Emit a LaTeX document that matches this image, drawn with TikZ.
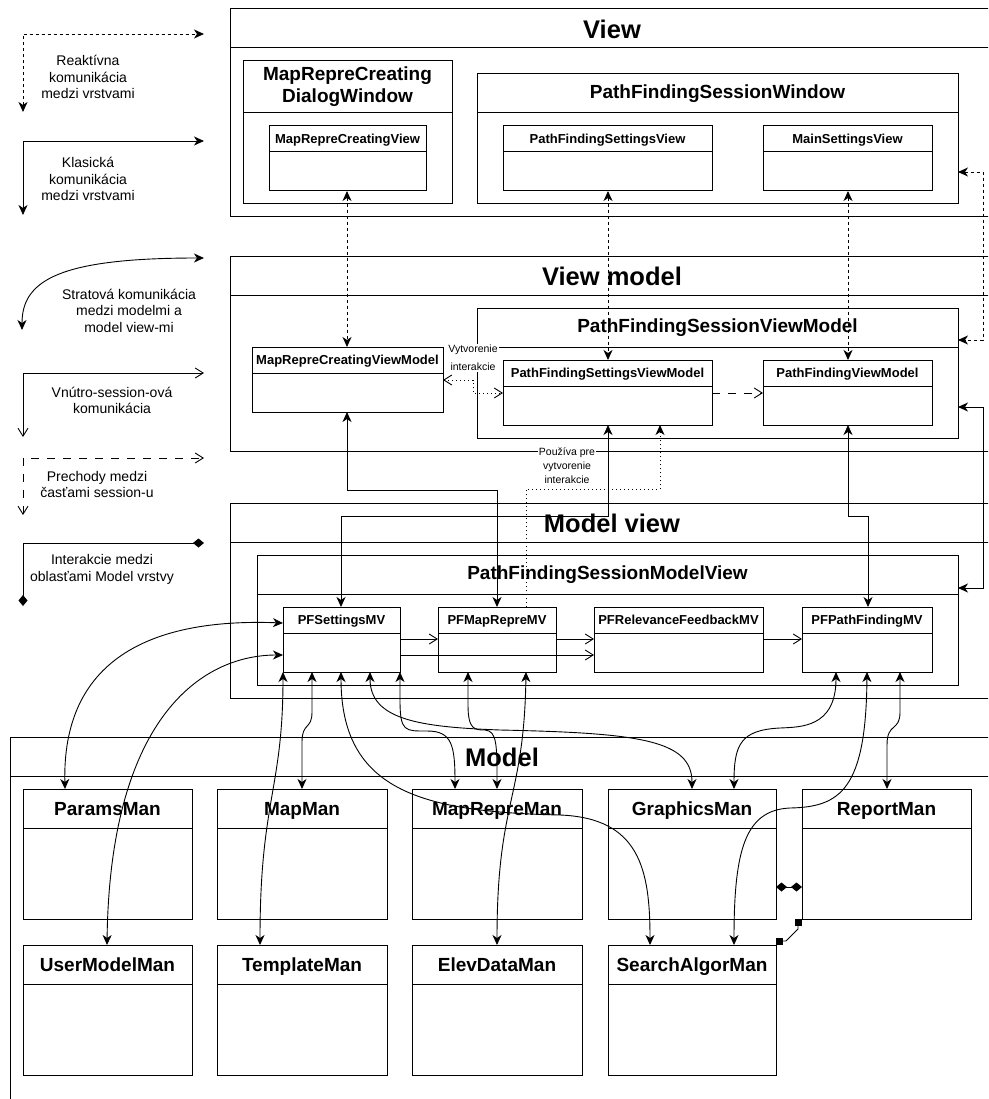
\documentclass[tikz,border=0pt]{standalone}
\usepackage{fontspec}
\setmainfont{Liberation Sans}
\usetikzlibrary{arrows.meta,calc}
\tikzset{
  myfa/.tip={Stealth[length=10pt,width=9pt,inset=3pt]},
  myoa/.tip={Straight Barb[length=8pt,width=10pt,line width=0.9pt]},
  mydia/.tip={Diamond[length=11pt,width=9pt]},
  mysq/.tip={Square[length=7pt,width=7pt]},
}
\newcommand{\ubox}[8]{%
  \node[ubody, minimum width={(#4)-(#2)}, minimum height={(#5)-(#3)}] (#1) at ({((#2)+(#4))/2},{((#3)+(#5))/2}) {};
  \draw[hline] (#2,#6) -- (#4,#6);
  \node[#8] (#1-title) at ({((#2)+(#4))/2},{((#3)+(#6))/2}) {#7};
}
\begin{document}
\begin{tikzpicture}[x=1pt,y=-1pt,
  ubody/.style={draw, line width=1pt, fill=white, inner sep=0pt, outer sep=0pt, rectangle},
  hline/.style={line width=1pt},
  ttl/.style={font=\bfseries\fontsize{25.5}{28}\selectfont, inner sep=0pt, text height=18.4pt, text depth=0pt, yshift=-1pt},
  wtl/.style={font=\bfseries\fontsize{19}{22}\selectfont, align=center, inner sep=0pt},
  stl/.style={font=\bfseries\fontsize{13}{15}\selectfont, inner sep=0pt, text height=9.4pt, text depth=0pt},
  mtl/.style={font=\bfseries\fontsize{19}{22}\selectfont, inner sep=0pt, text height=13.7pt, text depth=0pt},
  leg/.style={font=\fontsize{14}{16.5}\selectfont, align=center, inner sep=0pt},
  lbl/.style={font=\fontsize{10.5}{14}\selectfont, align=center, fill=white, inner sep=1pt},
  conn/.style={line width=0.9pt},
  reactive/.style={dash pattern=on 3pt off 3pt},
  trans/.style={dash pattern=on 8pt off 8pt},
  dotd/.style={dash pattern=on 1pt off 3pt},
]
\useasboundingbox (0,0) rectangle (988,1099);
\clip (0,0) rectangle (988,1099);
\fill[white] (0,0) rectangle (988,1099);

% ---------- legend ----------
\coordinate (r0) at (23,34); \coordinate (r1) at (204,34); \coordinate (r2) at (23,112);
\draw[conn, reactive, {myfa}-{myfa}] (r2) -- (r0) -- (r1);
\node[leg] (legR) at (88,77) {Reaktívna\\komunikácia\\medzi vrstvami};

\coordinate (k0) at (23,141); \coordinate (k1) at (204,141); \coordinate (k2) at (23,215);
\draw[conn, {myfa}-{myfa}] (k2) -- (k0) -- (k1);
\node[leg] (legK) at (88,179) {Klasická\\komunikácia\\medzi vrstvami};

\coordinate (s1) at (204,258); \coordinate (s2) at (22,330);
\draw[conn, {myfa}-{myfa}] (s1) .. controls (60,258) and (22,280) .. (s2);
\node[leg] (legS) at (129,310.5) {Stratová komunikácia\\medzi modelmi a\\model view-mi};

\coordinate (v0) at (23,373); \coordinate (v1) at (204,373); \coordinate (v2) at (23,437);
\draw[conn, {myoa}-{myoa}] (v2) -- (v0) -- (v1);
\node[leg] (legV) at (112,400.5) {Vnútro-session-ová\\komunikácia};

\coordinate (p0) at (23,458); \coordinate (p1) at (204,458); \coordinate (p2) at (23,515);
\draw[conn, trans, {myoa}-{myoa}] (p2) -- (p0) -- (p1);
\node[leg] (legP) at (97,484.5) {Prechody medzi\\časťami session-u};

\coordinate (i0) at (23,543); \coordinate (i1) at (204,543); \coordinate (i2) at (23,606);
\draw[conn, {mydia}-{mydia}] (i2) -- (i0) -- (i1);
\node[leg] (legI) at (102,569.5) {Interakcie medzi\\oblasťami Model vrstvy};

% ---------- View ----------
\ubox{View}{230}{9}{994}{217}{48}{View}{ttl}
\ubox{MRCDW}{243}{61}{452}{204}{113}{MapRepreCreating\\DialogWindow}{wtl}
\ubox{MRCV}{269}{126}{426}{191}{152}{MapRepreCreatingView}{stl}
\ubox{PFSW}{477}{74}{958}{204}{113}{PathFindingSessionWindow}{wtl}
\ubox{PFSV}{503}{126}{712}{191}{152}{PathFindingSettingsView}{stl}
\ubox{MSV}{763}{126}{932}{191}{152}{MainSettingsView}{stl}

% ---------- View model ----------
\ubox{VM}{230}{256}{994}{451}{295}{View model}{ttl}
\ubox{PFSVM}{477}{308}{958}{438}{347}{PathFindingSessionViewModel}{wtl}
\ubox{MRCVM}{252}{347}{443}{412}{373}{MapRepreCreatingViewModel}{stl}
\ubox{PFSetVM}{503}{360}{712}{425}{386}{PathFindingSettingsViewModel}{stl}
\ubox{PFVM}{763}{360}{932}{425}{386}{PathFindingViewModel}{stl}

% ---------- Model view ----------
\ubox{MV}{230}{503}{994}{698}{542}{Model view}{ttl}
\ubox{PFSMV}{257}{555}{958}{685}{594}{PathFindingSessionModelView}{wtl}
\ubox{PFSetMV}{283}{607}{400}{672}{633}{PFSettingsMV}{stl}
\ubox{PFMRMV}{438}{607}{556}{672}{633}{PFMapRepreMV}{stl}
\ubox{PFRFMV}{594}{607}{763}{672}{633}{PFRelevanceFeedbackMV}{stl}
\ubox{PFPFMV}{802}{607}{932}{672}{633}{PFPathFindingMV}{stl}

% ---------- Model ----------
\ubox{Model}{10}{737}{994}{1120}{776}{Model}{ttl}
\ubox{ParamsMan}{23}{789}{192}{919}{828}{ParamsMan}{mtl}
\ubox{MapMan}{217}{789}{387}{919}{828}{MapMan}{mtl}
\ubox{MapRepreMan}{412}{789}{582}{919}{828}{MapRepreMan}{mtl}
\ubox{GraphicsMan}{608}{789}{776}{919}{828}{GraphicsMan}{mtl}
\ubox{ReportMan}{802}{789}{971}{919}{828}{ReportMan}{mtl}
\ubox{UserModelMan}{23}{945}{192}{1075}{984}{UserModelMan}{mtl}
\ubox{TemplateMan}{217}{945}{387}{1075}{984}{TemplateMan}{mtl}
\ubox{ElevDataMan}{412}{945}{582}{1075}{984}{ElevDataMan}{mtl}
\ubox{SearchAlgorMan}{608}{945}{776}{1075}{984}{SearchAlgorMan}{mtl}

% ---------- connectors View <-> View model ----------
\draw[conn, reactive, {myfa}-{myfa}] (MRCV.south -| 347,0) -- (MRCVM.north -| 347,0);
\draw[conn, reactive, {myfa}-{myfa}] (PFSV.south -| 608,0) -- (PFSetVM.north -| 608,0);
\draw[conn, reactive, {myfa}-{myfa}] (MSV.south -| 848,0) -- (PFVM.north -| 848,0);
\draw[conn, reactive, {myfa}-{myfa}] (PFSW.east |- 0,172) -- (983,172) -- (983,340) -- (PFSVM.east |- 0,340);
\draw[conn, {myfa}-{myfa}] (PFSVM.east |- 0,407) -- (983,407) -- (983,588) -- (PFSMV.east |- 0,588);

% inside view model
\draw[conn, dotd, {myoa}-{myoa}] (MRCVM.east |- 0,380) -- (473,380) -- (473,393) -- (PFSetVM.west |- 0,393);
\draw[conn, trans, -{myoa}] (PFSetVM.east |- 0,393) -- (PFVM.west |- 0,393);

% view model <-> model view
\draw[conn, {myfa}-{myfa}] (MRCVM.south -| 347,0) -- (347,490) -- (497,490) -- (PFMRMV.north -| 497,0);
\draw[conn, {myfa}-{myfa}] (PFSetVM.south -| 608,0) -- (608,516) -- (341,516) -- (PFSetMV.north -| 341,0);
\draw[conn, {myfa}-{myfa}] (PFVM.south -| 848,0) -- (848,516) -- (868,516) -- (PFPFMV.north -| 868,0);
\draw[conn, dotd, -{myfa}] (PFMRMV.north -| 526,0) -- (526,489) -- (660,489) -- (PFSetVM.south -| 660,0);

% inside model view
\draw[conn, -{myoa}] (PFSetMV.east |- 0,639) -- (PFMRMV.west |- 0,639);
\draw[conn, -{myoa}] (PFSetMV.east |- 0,655) -- (PFRFMV.west |- 0,655);
\draw[conn, -{myoa}] (PFMRMV.east |- 0,639) -- (PFRFMV.west |- 0,639);
\draw[conn, -{myoa}] (PFRFMV.east |- 0,639) -- (PFPFMV.west |- 0,639);

% model view <-> model
\draw[conn, {myfa}-{myfa}] (PFSetMV.west |- 0,623) .. controls (150,618) and (62,660) .. (ParamsMan.north -| 65,0);
\draw[conn, {myfa}-{myfa}] (PFSetMV.west |- 0,655) .. controls (200,655) and (110,720) .. (UserModelMan.north -| 107,0);
\draw[conn, {myfa}-{myfa}] (PFSetMV.south -| 283,0) .. controls (283,790) and (260,800) .. (TemplateMan.north -| 260,0);
\draw[conn, {myfa}-{myfa}] (PFSetMV.south -| 312,0) -- (312,712) .. controls (312,730) and (302,722) .. (302,742) -- (MapMan.north -| 302,0);
\draw[conn, {myfa}-{myfa}] (PFSetMV.south -| 341,0) .. controls (341,790) and (420,812) .. (560,815) .. controls (640,818) and (650,870) .. (SearchAlgorMan.north -| 650,0);
\draw[conn, {myfa}-{myfa}] (PFSetMV.south -| 370,0) .. controls (370,720) and (420,727) .. (500,730) .. controls (640,733) and (692,740) .. (GraphicsMan.north -| 692,0);
\draw[conn, {myfa}-{myfa}] (PFSetMV.south -| 400,0) -- (400,700) .. controls (400,732) and (405,731) .. (427,731) .. controls (452,731) and (455,745) .. (MapRepreMan.north -| 455,0);
\draw[conn, {myfa}-{myfa}] (PFMRMV.south -| 468,0) -- (468,705) .. controls (468,730) and (475,730) .. (485,730) .. controls (497,731) and (497,745) .. (MapRepreMan.north -| 497,0);
\draw[conn, {myfa}-{myfa}] (PFMRMV.south -| 526,0) .. controls (524,800) and (497,800) .. (ElevDataMan.north -| 497,0);
\draw[conn, {myfa}-{myfa}] (PFPFMV.south -| 836,0) .. controls (836,728) and (800,727) .. (780,728) .. controls (740,730) and (734,745) .. (GraphicsMan.north -| 734,0);
\draw[conn, {myfa}-{myfa}] (PFPFMV.south -| 867,0) .. controls (866,790) and (840,807) .. (790,808) .. controls (745,810) and (734,850) .. (SearchAlgorMan.north -| 734,0);
\draw[conn, {myfa}-{myfa}] (PFPFMV.south -| 900,0) -- (900,712) .. controls (900,732) and (887,722) .. (887,745) -- (ReportMan.north -| 887,0);

% inside model
\draw[conn, {mydia}-{mydia}] (GraphicsMan.east |- 0,887) -- (ReportMan.west |- 0,887);
\draw[conn, {mysq}-{mysq}] ($(SearchAlgorMan.north east)+(0,-4)$) -- (786,941) -- (798,929) -- ($(ReportMan.south west)+(-4,0)$);

% labels
\node[lbl, font=\fontsize{10.5}{18}\selectfont] (lblV) at (473,358) {Vytvorenie\\interakcie};
\node[lbl] (lblP) at (567,466) {Používa pre\\vytvorenie\\interakcie};
\end{tikzpicture}
\end{document}
